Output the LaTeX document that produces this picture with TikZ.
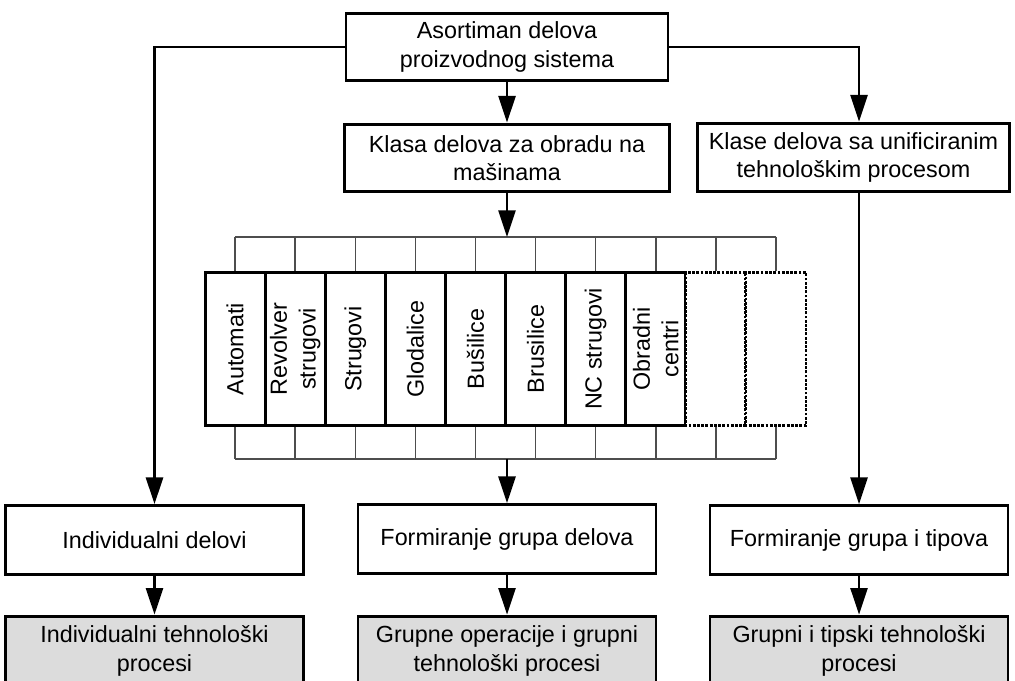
\documentclass[tikz,border=0pt]{standalone}
\usepackage{fontspec}
\setmainfont{Liberation Sans}
\usetikzlibrary{arrows.meta}
\definecolor{ProcGray}{HTML}{DCDCDC}
\definecolor{CombGray}{HTML}{4D4D4D}

\begin{document}
\begin{tikzpicture}[x=0.025cm,y=-0.025cm,
    box/.style={draw,line width=2pt,fill=white,align=center,inner sep=0pt,
      font=\fontsize{16.6}{20.3}\selectfont},
    wide/.style={box,minimum width=211.9pt,minimum height=48.9pt},
    procbox/.style={wide,fill=ProcGray,minimum height=49.6pt},
    mach/.style={box,rotate=90,minimum width=109.1pt,minimum height=42.6pt},
    arr/.style={line width=2pt,-{Triangle[length=19pt,width=12pt]}},
    comb/.style={line width=1pt,CombGray}]
  \useasboundingbox (0,0) rectangle (1015,681);
  \clip (0,0) rectangle (1015,681);

  \node[box,minimum width=228.9pt,minimum height=47.5pt] (sortiment) at (507,47)
    {Asortiman delova\\proizvodnog sistema};
  \node[box,minimum width=231pt,minimum height=48.2pt] (klasa) at (507,158)
    {Klasa delova za obradu na\\mašinama};
  \node[box,minimum width=221.8pt,minimum height=48.9pt] (klase) at (853.5,157.5)
    {Klase delova sa unificiranim\\tehnološkim procesom};

  \coordinate (combtop) at (507,237);
  \coordinate (combbot) at (507,459);
  \foreach \i/\txt in {1/Automati,2/{Revolver\\strugovi},3/Strugovi,4/Glodalice,
      5/Bušilice,6/Brusilice,7/NC strugovi,8/{Obradni\\centri}}
    \node[mach] (m\i) at ({175+60.1*\i},349) {\txt};
  \foreach \i in {9,10}
    \node[mach,densely dotted] (m\i) at ({175+60.1*\i},349) {};
  \draw[comb] (m1 |- combtop) -- (m10 |- combtop);
  \draw[comb] (m1 |- combbot) -- (m10 |- combbot);
  \foreach \i in {1,...,10}{
    \draw[comb] (m\i |- combtop) -- (m\i.east);
    \draw[comb] (m\i.west) -- (m\i |- combbot);}

  \node[wide] (indiv) at (154.5,540) {Individualni delovi};
  \node[wide] (formgrp) at (507,539) {Formiranje grupa delova};
  \node[wide] (formtip) at (859,540) {Formiranje grupa i tipova};
  \node[procbox] (proc1) at (154.5,651) {Individualni tehnološki\\procesi};
  \node[procbox] (proc2) at (507,651) {Grupne operacije i grupni\\tehnološki procesi};
  \node[procbox] (proc3) at (859,651) {Grupni i tipski tehnološki\\procesi};

  \draw[arr] (sortiment) -- (klasa);
  \draw[arr] (klasa) -- (combtop);
  \draw[arr] (combbot) -- (formgrp);
  \draw[arr] (sortiment.west) -| (indiv);
  \draw[arr] (sortiment.east) -| (klase.north -| formtip);
  \draw[arr] (klase.south -| formtip) -- (formtip);
  \draw[arr] (indiv) -- (proc1);
  \draw[arr] (formgrp) -- (proc2);
  \draw[arr] (formtip) -- (proc3);
\end{tikzpicture}
\end{document}
